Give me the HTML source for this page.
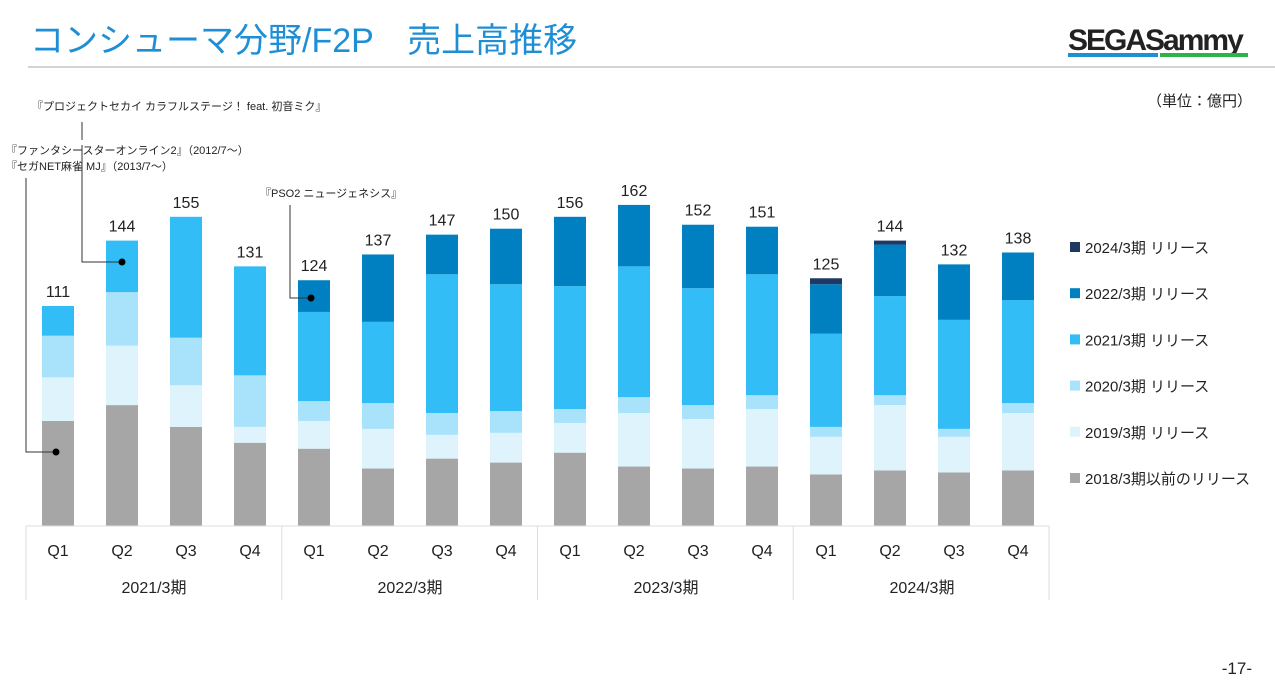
<!DOCTYPE html>
<html><head><meta charset="utf-8"><style>
body{margin:0;background:#fff;width:1275px;height:689px;overflow:hidden;font-family:"Liberation Sans","Noto Sans CJK JP",sans-serif}
svg text{font-family:"Liberation Sans","Noto Sans CJK JP",sans-serif}
</style></head><body>
<svg width="1275" height="689">
<text x="30" y="52" font-size="34" fill="#1e8fd5">コンシューマ分野/F2P　売上高推移</text>
<text x="1068" y="50" font-size="30" font-weight="bold" fill="#222" letter-spacing="-2">SEGASammy</text>
<rect x="1068" y="53" width="90" height="4" fill="#1e8fd5"/><rect x="1160" y="53" width="88" height="4" fill="#2db34a"/>
<line x1="28" y1="67" x2="1275" y2="67" stroke="#aaa"/>
<text x="1252" y="106" font-size="15" text-anchor="end" fill="#222">（単位：億円）</text>
<text x="1252" y="674" font-size="17" text-anchor="end" fill="#222">-17-</text>
<g id="bars"></g><g id="axis"></g><g id="legend"></g>
<g font-size="11" fill="#222">
<text x="32" y="110">『プロジェクトセカイ カラフルステージ！ feat. 初音ミク』</text>
<text x="6" y="154">『ファンタシースターオンライン2』（2012/7～）</text>
<text x="6" y="170">『セガNET麻雀 MJ』（2013/7～）</text>
<text x="260" y="197">『PSO2 ニュージェネシス』</text>
<polyline points="82,122 82,140" fill="none" stroke="#333"/>
<polyline points="82,145 82,262 122,262" fill="none" stroke="#333"/><circle cx="122" cy="262" r="3.5" fill="#000"/>
<polyline points="26,178 26,452 56,452" fill="none" stroke="#333"/><circle cx="56" cy="452" r="3.5" fill="#000"/>
<polyline points="290,205 290,298 311,298" fill="none" stroke="#333"/><circle cx="311" cy="298" r="3.5" fill="#000"/>
</g>
</svg>
<script>
const quarters=["Q1","Q2","Q3","Q4","Q1","Q2","Q3","Q4","Q1","Q2","Q3","Q4","Q1","Q2","Q3","Q4"];
const years=["2021/3期","2022/3期","2023/3期","2024/3期"];
const totals=[111,144,155,131,124,137,147,150,156,162,152,151,125,144,132,138];
const s2018=[53,61,50,42,39,29,34,32,37,30,29,30,26,28,27,28];
const s2019=[22,30,21,8,14,20,12,15,15,27,25,29,19,33,18,29];
const s2020=[21,27,24,26,10,13,11,11,7,8,7,7,5,5,4,5];
const s2021=[15,26,61,55,45,41,70,64,62,66,59,61,47,50,55,52];
const s2022=[0,0,0,0,16,34,20,28,35,31,32,24,25,26,28,24];
const s2024=[0,0,0,0,0,0,0,0,0,0,0,0,3,2,0,0];
const seriesNames=["2018/3期以前のリリース","2019/3期 リリース","2020/3期 リリース","2021/3期 リリース","2022/3期 リリース","2024/3期 リリース"];
const series=[s2018,s2019,s2020,s2021,s2022,s2024];
const colors=["#a6a6a6","#dff3fc","#a9e2fb","#33bdf6","#0080c0","#1f3864"];
const NS="http://www.w3.org/2000/svg";
const base=526,k=1.982;
const y=v=>base-v*k;
const xc=i=>58+i*64;
function mk(t,a,p){const e=document.createElementNS(NS,t);for(const q in a)e.setAttribute(q,a[q]);p.appendChild(e);return e;}
const bars=document.getElementById('bars');
for(let i=0;i<quarters.length;i++){
 let acc=0;
 series.forEach((s,j)=>{if(!s[i])return;
  const r=mk('rect',{x:xc(i)-16,y:y(acc+s[i]),width:32,height:s[i]*k,fill:colors[j]},bars);
  
  
  acc+=s[i];});
 const t=mk('text',{x:xc(i),y:y(acc)-9,'text-anchor':'middle','font-size':16,fill:'#222'},bars);t.textContent=totals[i];
 
 
}
const ax=document.getElementById('axis');
mk('line',{x1:26,y1:526,x2:1049,y2:526,stroke:'#ddd'},ax);
for(let g=0;g<=4;g++)mk('line',{x1:26+g*255.75,y1:526,x2:26+g*255.75,y2:600,stroke:'#ddd'},ax);
quarters.forEach((q,i)=>{const t=mk('text',{x:xc(i),y:556,'text-anchor':'middle','font-size':16,fill:'#222'},ax);t.textContent=q;
 
 });
years.forEach((q,i)=>{const t=mk('text',{x:xc(i*4)+96,y:593,'text-anchor':'middle','font-size':16,fill:'#222'},ax);t.textContent=q;
 
 });
const lg=document.getElementById('legend');
for(let j=5;j>=0;j--){const yy=248+(5-j)*46.2;
 const g=mk('g',{},lg);
 
 
 mk('rect',{x:1070,y:yy-6,width:10,height:10,fill:colors[j]},g);
 const t=mk('text',{x:1085,y:yy+5,'font-size':15,fill:'#222'},g);t.textContent=seriesNames[j];}
</script>
</body></html>
